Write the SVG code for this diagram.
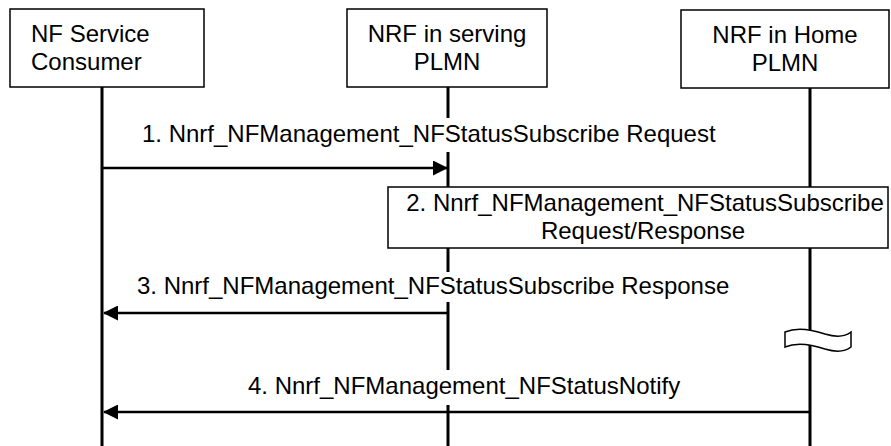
<svg xmlns="http://www.w3.org/2000/svg" width="891" height="446" viewBox="0 0 891 446">
<style>
text{font-family:"Liberation Sans",Arial,sans-serif;font-size:24px;fill:#000}
.box{fill:#fff;stroke:#000;stroke-width:1.5}
.life{stroke:#000;stroke-width:3;fill:none}
.msg{stroke:#000;stroke-width:2.5;fill:none}
.c{text-anchor:middle}
</style>
<defs>
<marker id="ah" markerUnits="userSpaceOnUse" markerWidth="15" markerHeight="15" refX="14" refY="7.5" orient="auto">
<path d="M0,0 L15,7.5 L0,15 Z" fill="#000"/>
</marker>
</defs>
<g id="lifelines">
<line class="life" x1="102" y1="87" x2="102" y2="446"/>
<line class="life" x1="448" y1="87" x2="448" y2="118"/>
<line class="life" x1="448" y1="152" x2="448" y2="188"/>
<line class="life" x1="448" y1="247" x2="448" y2="272"/>
<line class="life" x1="448" y1="302" x2="448" y2="370"/>
<line class="life" x1="448" y1="405" x2="448" y2="446"/>
<line class="life" x1="810" y1="88" x2="810" y2="446"/>
</g>
<g id="nf-consumer">
<rect class="box" x="10" y="9" width="194" height="78"/>
<text x="31" y="42">NF Service</text>
<text x="31" y="70">Consumer</text>
</g>
<g id="nrf-serving">
<rect class="box" x="347" y="9" width="200" height="78"/>
<text class="c" x="447" y="42">NRF in serving</text>
<text class="c" x="447" y="70">PLMN</text>
</g>
<g id="nrf-home">
<rect class="box" x="681" y="10" width="208" height="78"/>
<text class="c" x="785" y="43">NRF in Home</text>
<text class="c" x="785" y="71">PLMN</text>
</g>
<g id="step2">
<rect class="box" x="388" y="187" width="500" height="61"/>
<text class="c" x="645" y="211">2. Nnrf_NFManagement_NFStatusSubscribe</text>
<text class="c" x="643" y="239">Request/Response</text>
</g>
<g id="break">
<path d="M785,332 C797,327 810,329 825,334 C838,338 846,336 851,332 L851,347 C846,351 838,353 825,349 C810,344 797,342 785,347 Z" fill="#fff" stroke="#000" stroke-width="1.5"/>
</g>
<g id="connectors">
<line class="msg" x1="102" y1="168" x2="447" y2="168" marker-end="url(#ah)"/>
<text x="142" y="142">1. Nnrf_NFManagement_NFStatusSubscribe Request</text>
<line class="msg" x1="448" y1="313" x2="104" y2="313" marker-end="url(#ah)"/>
<text x="137" y="294">3. Nnrf_NFManagement_NFStatusSubscribe Response</text>
<line class="msg" x1="810" y1="412" x2="104" y2="412" marker-end="url(#ah)"/>
<text x="248" y="394">4. Nnrf_NFManagement_NFStatusNotify</text>
</g>
</svg>
